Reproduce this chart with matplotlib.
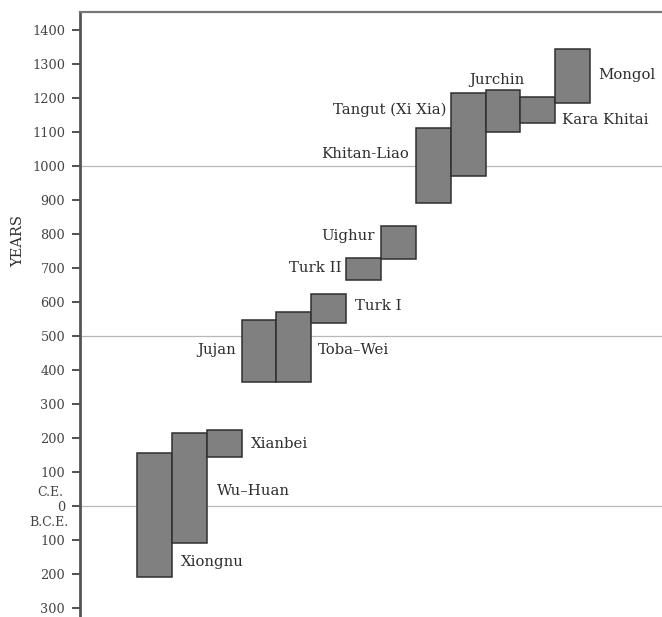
import matplotlib
matplotlib.use("Agg")
import matplotlib.pyplot as plt
from matplotlib.patches import Rectangle

# Data: start / end years (negative = B.C.E.)
peoples = ["Xiongnu", "Wu-Huan", "Xianbei", "Jujan", "Toba-Wei", "Turk I", "Turk II",
           "Uighur", "Khitan-Liao", "Tangut (Xi Xia)", "Jurchin", "Kara Khitai", "Mongol"]
start_year = [-210, -110, 143, 364, 364, 538, 664, 726, 891, 970, 1099, 1126, 1185]
end_year = [155, 214, 223, 547, 570, 623, 729, 823, 1112, 1214, 1223, 1203, 1344]

label_text = ["Xiongnu", "Wu\u2013Huan", "Xianbei", "Jujan", "Toba\u2013Wei", "Turk I", "Turk II",
              "Uighur", "Khitan-Liao", "Tangut (Xi Xia)", "Jurchin", "Kara Khitai", "Mongol"]
label_x = [1.26, 2.30, 3.27, 2.84, 5.19, 6.26, 5.88, 6.83, 7.80, 8.87, 10.33, 12.2, 13.23]
label_y = [-166, 43, 182, 458, 458, 588, 700, 794, 1035, 1165, 1253, 1135, 1267]
label_ha = ["left", "left", "left", "right", "left", "left", "right", "right", "right",
            "right", "center", "left", "left"]

tick_values = [-300, -200, -100, 0, 100, 200, 300, 400, 500, 600, 700, 800, 900,
               1000, 1100, 1200, 1300, 1400]
tick_labels = ["300", "200", "100", "0", "100", "200", "300", "400", "500", "600", "700",
               "800", "900", "1000", "1100", "1200", "1300", "1400"]
grid_values = [0, 500, 1000]

W, H = 662, 617
fig = plt.figure(figsize=(W / 100, H / 100), dpi=100)
ax = fig.add_axes([80 / W, 0, 1 - 80 / W, 1 - 12 / H])

serif = ["DejaVu Serif"]

for g in grid_values:
    ax.axhline(g, color="#b8b8b8", lw=0.9, zorder=0)

for i, (s, e) in enumerate(zip(start_year, end_year)):
    ax.add_patch(Rectangle((i, s), 1, e - s, facecolor="#808080",
                           edgecolor="#2f2f2f", lw=1.1, zorder=2))

for t, x, y, ha in zip(label_text, label_x, label_y, label_ha):
    ax.text(x, y, t, ha=ha, va="center", fontsize=10.7, color="#2e2e2e",
            family=serif, zorder=3)

ax.set_xlim(-1.636, 15.06)
ax.set_ylim(-327.5, 1453)
ax.set_xticks([])
ax.set_yticks(tick_values)
ax.set_yticklabels(tick_labels, fontsize=9.3, color="#444444", family=serif)
ax.tick_params(axis="y", direction="out", length=5.7, width=1.3, color="#444444", pad=5)

for side in ["right", "bottom"]:
    ax.spines[side].set_visible(False)
ax.spines["left"].set_color("#555555")
ax.spines["left"].set_linewidth(2)
ax.spines["top"].set_color("#777777")
ax.spines["top"].set_linewidth(1.6)

fig.text(18 / W, 1 - 241 / H, "YEARS", rotation=90, ha="center", va="center",
         fontsize=10.5, color="#2e2e2e", family=serif)
fig.text(50 / W, 1 - 493 / H, "C.E.", ha="center", va="center",
         fontsize=9, color="#444444", family=serif)
fig.text(49 / W, 1 - 523 / H, "B.C.E.", ha="center", va="center",
         fontsize=9, color="#444444", family=serif)

fig.savefig("out.png", dpi=100)
